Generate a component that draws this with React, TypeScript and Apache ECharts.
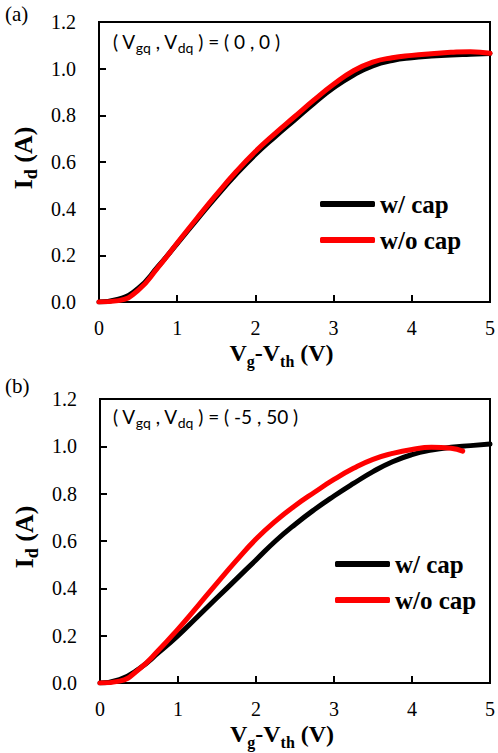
import React, { useEffect, useRef } from "react";
import * as echarts from "echarts";

// Panel (a): (Vgq, Vdq) = (0, 0)
const xA = [0, 0.25, 0.5, 0.75, 1, 1.25, 1.5, 1.75, 2, 2.25, 2.5, 2.75, 3, 3.25, 3.5, 3.75, 4, 4.25, 4.5, 4.75, 5];
const capA = [0, 0.012, 0.058, 0.15, 0.25, 0.352, 0.452, 0.546, 0.632, 0.708, 0.78, 0.852, 0.918, 0.972, 1.012, 1.035, 1.047, 1.054, 1.059, 1.062, 1.065];
const noCapA = [0, 0.006, 0.05, 0.146, 0.253, 0.358, 0.46, 0.557, 0.645, 0.722, 0.794, 0.866, 0.933, 0.99, 1.028, 1.047, 1.057, 1.064, 1.07, 1.073, 1.066];

// Panel (b): (Vgq, Vdq) = (-5, 50)
const xB = [0, 0.25, 0.5, 0.75, 1, 1.25, 1.5, 1.75, 2, 2.25, 2.5, 2.75, 3, 3.25, 3.5, 3.75, 4, 4.25, 4.5, 4.75, 5];
const capB = [0, 0.014, 0.06, 0.128, 0.2, 0.28, 0.36, 0.44, 0.52, 0.6, 0.67, 0.733, 0.79, 0.843, 0.893, 0.935, 0.965, 0.984, 0.996, 1.003, 1.01];
const xBNoCap = [0, 0.25, 0.5, 0.75, 1, 1.25, 1.5, 1.75, 2, 2.25, 2.5, 2.75, 3, 3.25, 3.5, 3.75, 4, 4.25, 4.5, 4.65];
const noCapB = [0, 0.008, 0.058, 0.138, 0.228, 0.324, 0.422, 0.518, 0.608, 0.684, 0.749, 0.806, 0.86, 0.907, 0.945, 0.97, 0.987, 0.996, 0.992, 0.98];

const seriesNames = ["w/ cap", "w/o cap"];
const seriesColors = ["#000000", "#ff0000"];
const panelLabels = ["(a)", "(b)"];
const conditions = [
  ["gq", "dq", "0 , 0"],
  ["gq", "dq", "-5 , 50"],
];

const pairs = (xs: number[], ys: number[]) => xs.map((x, i) => [x, ys[i]]);

const serif = "Liberation Serif";
const sans = "Lato";

export default function App() {
  const ref = useRef<HTMLDivElement>(null);
  useEffect(() => {
    if (!ref.current) return;
    const chart = echarts.init(ref.current, undefined, { renderer: "svg" });

    const grids = [
      { left: 99, top: 22, width: 394, height: 280 },
      { left: 100, top: 399, width: 396, height: 284 },
    ];

    const xRich = {
      b: { fontFamily: serif, fontWeight: "bold", fontSize: 24, color: "#000", lineHeight: 28, verticalAlign: "top" },
      s: { fontFamily: serif, fontWeight: "bold", fontSize: 16, color: "#000", lineHeight: 16, verticalAlign: "bottom" },
    };
    const yRich = {
      b: { fontFamily: serif, fontWeight: "bold", fontSize: 26, color: "#000", lineHeight: 30, verticalAlign: "top" },
      s: { fontFamily: serif, fontWeight: "bold", fontSize: 18, color: "#000", lineHeight: 18, verticalAlign: "bottom" },
    };

    const xAxes = grids.map((_, i) => ({
      type: "value",
      gridIndex: i,
      min: 0,
      max: 5,
      interval: 1,
      axisLine: { show: true, lineStyle: { color: "#000", width: 2 } },
      axisTick: { show: true, inside: true, length: 7, lineStyle: { color: "#000", width: 2 } },
      axisLabel: { fontFamily: serif, fontSize: 20, color: "#000", margin: 16 },
      splitLine: { show: false },
      name: "{b|V}{s|g}{b|-V}{s|th}{b| (V)}",
      nameLocation: "middle",
      nameGap: 39,
      nameTextStyle: { fontFamily: serif, rich: xRich, padding: [0, 26, 0, 0] },
    }));

    const yAxes = grids.map((_, i) => ({
      type: "value",
      gridIndex: i,
      min: 0,
      max: 1.2,
      interval: 0.2,
      axisLine: { show: true, lineStyle: { color: "#000", width: 2 } },
      axisTick: { show: true, inside: true, length: 7, lineStyle: { color: "#000", width: 2 } },
      axisLabel: { fontFamily: serif, fontSize: 20, color: "#000", margin: 23, formatter: (v: number) => v.toFixed(1) },
      splitLine: { show: false },
      name: "{b|I}{s|d}{b| (A)}",
      nameLocation: "middle",
      nameRotate: 90,
      nameGap: 57,
      nameTextStyle: { fontFamily: serif, rich: yRich, padding: [0, 0, 0, 8] },
    }));

    const dataSets = [
      [pairs(xA, capA), pairs(xA, noCapA)],
      [pairs(xB, capB), pairs(xBNoCap, noCapB)],
    ];

    const series: any[] = [];
    dataSets.forEach((ds, gi) => {
      ds.forEach((d, si) => {
        series.push({
          type: "line",
          name: seriesNames[si],
          xAxisIndex: gi,
          yAxisIndex: gi,
          data: d,
          showSymbol: false,
          smooth: 0.5,
          color: seriesColors[si],
          itemStyle: { color: seriesColors[si] },
          lineStyle: { color: seriesColors[si], width: 5, cap: "round", join: "round" },
          z: 2 + si,
        });
      });
    });

    const legendPos = [
      { left: 315, top: 186 },
      { left: 330, top: 546 },
    ];
    const legends = legendPos.map((p) => ({
      ...p,
      orient: "vertical",
      icon: "roundRect",
      itemWidth: 55,
      itemHeight: 6,
      itemGap: 10,
      data: seriesNames,
      selectedMode: false,
      textStyle: { fontFamily: serif, fontWeight: "bold", fontSize: 25, color: "#000", lineHeight: 26 },
    }));

    const annRich = {
      m: { fontFamily: sans, fontSize: 19, color: "#000", lineHeight: 22, verticalAlign: "top" },
      s: { fontFamily: sans, fontSize: 14, color: "#000", lineHeight: 14, verticalAlign: "bottom" },
    };
    const annY = [32, 407];
    const graphics: any[] = [];
    conditions.forEach((c, i) => {
      graphics.push({
        type: "text",
        left: 113,
        top: annY[i],
        style: {
          text: `{m|( V}{s|${c[0]}}{m| , V}{s|${c[1]}}{m| ) = ( ${c[2]} )}`,
          fontFamily: sans,
          rich: annRich,
        },
      });
    });
    const labelY = [3, 375];
    panelLabels.forEach((t, i) => {
      graphics.push({
        type: "text",
        left: 5,
        top: labelY[i],
        style: { text: t, fontFamily: serif, fontSize: 21, fill: "#000" },
      });
    });

    chart.setOption({
      animation: false,
      backgroundColor: "#fff",
      textStyle: { fontFamily: serif },
      grid: grids.map((g) => ({ ...g, show: true, borderColor: "#000", borderWidth: 2, backgroundColor: "transparent" })),
      xAxis: xAxes,
      yAxis: yAxes,
      legend: legends,
      series,
      graphic: graphics,
    });
    return () => chart.dispose();
  }, []);
  return <div ref={ref} style={{ position: "absolute", left: 0, top: 0, width: 498, height: 753 }} />;
}
